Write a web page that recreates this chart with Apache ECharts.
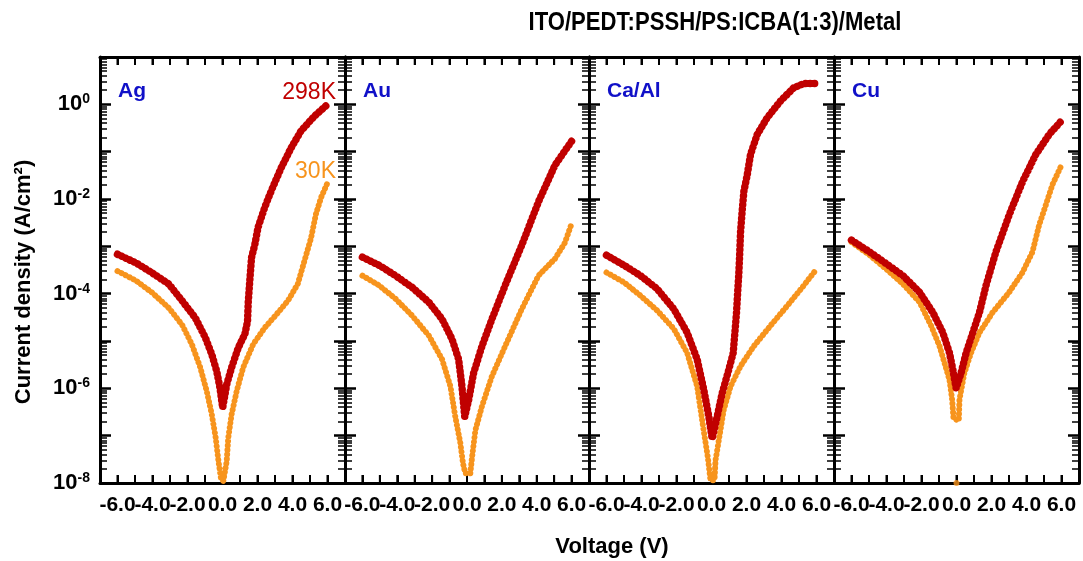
<!DOCTYPE html>
<html><head><meta charset="utf-8">
<script src="https://cdn.jsdelivr.net/npm/echarts@6/dist/echarts.min.js"></script>
<style>html,body{margin:0;padding:0;background:#fff}#c{width:1083px;height:561px}</style>
</head><body><div id="c"></div>
<script>
// ---------- data (voltage V, current density A/cm^2) ----------
const panelNames = ['Ag', 'Au', 'Ca/Al', 'Cu'];
const tempLabels = ['298K', '30K'];
const xTickLabels = [-6, -4, -2, 0, 2, 4, 6];
const xTickValues = [-7, -6, -5, -4, -3, -2, -1, 0, 1, 2, 3, 4, 5, 6, 7];
const yLabelExponents = [0, -2, -4, -6, -8];
const yDecadeExponents = [-8, -7, -6, -5, -4, -3, -2, -1, 0, 1];

const agHot = [[-6,6.8e-4],[-4.96,4.5e-4],[-4.02,2.75e-4],[-3.07,1.6e-4],[-2.31,7.1e-5],[-1.56,3.1e-5],[-0.99,1.2e-5],[-0.61,5.2e-6],[-0.33,2.3e-6],[-0.14,1.0e-6],[0.01,3.9e-7],[0.24,1.2e-6],[0.52,2.75e-6],[0.9,7.2e-6],[1.28,1.4e-5],[1.43,2.6e-5],[1.47,6.5e-5],[1.56,1.9e-4],[1.66,5.8e-4],[1.85,1.1e-3],[2.03,2.5e-3],[2.41,6.6e-3],[2.79,1.5e-2],[3.36,4.6e-2],[3.92,0.12],[4.49,0.275],[5.25,0.56],[6.0,1.0]];
const agCold = [[-6,3.0e-4],[-4.96,1.9e-4],[-4.02,1.05e-4],[-3.07,5.0e-5],[-2.31,2.2e-5],[-1.75,8.5e-6],[-1.27,2.75e-6],[-0.9,8.7e-7],[-0.61,2.8e-7],[-0.39,9.1e-8],[-0.23,2.9e-8],[-0.08,1.2e-8],[0.05,1.1e-8],[0.24,2.9e-8],[0.33,9.1e-8],[0.52,2.8e-7],[0.81,8.7e-7],[1.18,2.75e-6],[1.75,8.5e-6],[2.41,1.9e-5],[3.07,3.6e-5],[3.74,7.1e-5],[4.3,1.6e-4],[4.68,4.9e-4],[5.06,1.5e-3],[5.34,4.8e-3],[5.63,1.07e-2],[6.0,2.2e-2]];

const auHot = [[-6,5.9e-4],[-5.05,4.0e-4],[-4.1,2.4e-4],[-3.14,1.35e-4],[-2.19,6.6e-5],[-1.43,2.9e-5],[-0.86,1.1e-5],[-0.48,4.1e-6],[-0.29,1.1e-6],[-0.13,2.5e-7],[0.1,5.8e-7],[0.38,2.1e-6],[0.86,7.8e-6],[1.43,2.9e-5],[2.19,1.5e-4],[3.14,1.05e-3],[4.1,8.7e-3],[5.05,5.2e-2],[6.0,0.166]];
const auCold = [[-6,2.4e-4],[-5.05,1.5e-4],[-4.1,7.8e-5],[-3.14,3.4e-5],[-2.19,1.3e-5],[-1.43,4.1e-6],[-0.95,1.1e-6],[-0.67,2.5e-7],[-0.38,6.9e-8],[-0.23,2.6e-8],[-0.1,1.6e-8],[0.19,1.6e-8],[0.29,3.5e-8],[0.48,1.3e-7],[0.86,4.2e-7],[1.43,1.8e-6],[2.19,7.8e-6],[3.14,4.7e-5],[4.1,2.4e-4],[5.05,5.5e-4],[5.62,1.2e-3],[6.0,3.0e-3]];

const caHot = [[-6,6.5e-4],[-5.01,4.0e-4],[-4.06,2.4e-4],[-3.1,1.26e-4],[-2.15,4.7e-5],[-1.39,1.5e-5],[-0.82,4.1e-6],[-0.44,9.3e-7],[-0.15,2.5e-7],[0.04,8.7e-8],[0.32,2.5e-7],[0.61,7.9e-7],[0.99,2.5e-6],[1.24,5.6e-6],[1.37,2.1e-5],[1.43,4.0e-5],[1.5,1.15e-4],[1.56,2.6e-4],[1.6,5.5e-4],[1.66,2.0e-3],[1.75,5.4e-3],[1.85,1.45e-2],[2.04,3.2e-2],[2.23,8.7e-2],[2.61,0.23],[3.18,0.52],[3.94,1.17],[4.7,2.24],[5.28,2.75],[6.0,2.75]];
const caCold = [[-6,2.8e-4],[-5.01,1.75e-4],[-4.06,9.1e-5],[-3.1,4.4e-5],[-2.15,1.8e-5],[-1.39,5.6e-6],[-0.82,1.1e-6],[-0.48,1.55e-7],[-0.21,3.5e-8],[-0.06,1.15e-8],[0.17,1.15e-8],[0.23,3.0e-8],[0.42,8.1e-8],[0.7,3.5e-7],[1.09,1.1e-6],[1.66,2.95e-6],[2.42,7.8e-6],[3.37,2.1e-5],[4.32,5.5e-5],[5.28,1.5e-4],[6.0,3.3e-4]];

const cuHot = [[-6,1.35e-3],[-4.96,7.6e-4],[-4.01,4.3e-4],[-3.06,2.4e-4],[-2.11,1.07e-4],[-1.35,4.0e-5],[-0.78,1.5e-5],[-0.4,5.6e-6],[-0.21,2.5e-6],[-0.02,1.0e-6],[0.26,2.1e-6],[0.55,5.6e-6],[0.93,1.5e-5],[1.31,4.0e-5],[1.69,1.5e-4],[2.25,7.6e-4],[3.01,4.6e-3],[3.77,2.3e-2],[4.53,8.7e-2],[5.29,0.23],[6.0,0.45]];
const cuCold = [[-6,1.23e-3],[-4.96,6.5e-4],[-4.01,3.3e-4],[-3.06,1.6e-4],[-2.11,6.6e-5],[-1.45,2.1e-5],[-0.97,7.8e-6],[-0.69,3.5e-6],[-0.4,1.5e-6],[-0.25,5.8e-7],[-0.17,2.3e-7],[0.13,2.1e-7],[0.17,5.8e-7],[0.45,2.1e-6],[0.83,5.6e-6],[1.31,1.5e-5],[2.06,4.0e-5],[3.01,1.07e-4],[3.77,2.8e-4],[4.34,7.6e-4],[4.72,2.8e-3],[5.1,7.4e-3],[5.48,2.0e-2],[6.0,5.2e-2]];
const cuColdOutlier = [[0, 1.0e-8]];

const hotSets = [agHot, auHot, caHot, cuHot];
const coldSets = [agCold, auCold, caCold, cuCold];

// ---------- style ----------
const RED = '#c00000', ORANGE = '#f7941d', BLUE = '#1010c8';
const SANS = "'Liberation Sans',Arial,sans-serif";
const gridLefts = [100, 345, 589, 834];
const gridWidths = [245, 244, 245, 245];
const GTOP = 57, GHEIGHT = 426;
const Y_MIN = 1e-8, Y_MAX = 10;

const decadeVals = yDecadeExponents.map(e => Math.pow(10, e));
const minorVals = [];
yDecadeExponents.slice(0, -1).forEach(e => { for (let m = 2; m <= 9; m++) minorVals.push(m * Math.pow(10, e)); });
const yLabelVals = yLabelExponents.map(e => Math.pow(10, e));

const grids = [], xAxes = [], yAxes = [], series = [];
for (let i = 0; i < 4; i++) {
  grids.push({left: gridLefts[i], top: GTOP, width: gridWidths[i], height: GHEIGHT, containLabel: false});
  const xBase = {
    gridIndex: i, type: 'value', min: -7, max: 7, interval: 1,
    axisLine: {show: true, onZero: false, lineStyle: {color: '#000', width: 3}},
    axisTick: {show: true, inside: true, length: 8, lineStyle: {color: '#000', width: 2}},
    splitLine: {show: false}
  };
  xAxes.push(Object.assign({}, xBase, {
    position: 'bottom',
    axisLabel: {
      show: true, margin: 12, color: '#000', fontFamily: SANS, fontWeight: 'bold', fontSize: 21,
      showMinLabel: true, showMaxLabel: true, hideOverlap: false,
      formatter: v => (xTickLabels.indexOf(v) >= 0 ? v.toFixed(1) : '')
    }
  }));
  xAxes.push(Object.assign({}, xBase, {position: 'top', axisLabel: {show: false}}));

  ['left', 'right'].forEach(pos => {
    yAxes.push({
      gridIndex: i, type: 'log', logBase: 10, min: Y_MIN, max: Y_MAX, position: pos,
      axisLine: {show: true, onZero: false, lineStyle: {color: '#000', width: 3}},
      axisTick: {show: true, inside: true, length: 11, customValues: decadeVals, lineStyle: {color: '#000', width: 2.5}},
      axisLabel: (i === 0 && pos === 'left') ? {
        show: true, margin: 10, customValues: yLabelVals,
        formatter: v => '{b|10}{s|' + Math.round(Math.log10(v)) + '}',
        rich: {
          b: {fontFamily: SANS, fontWeight: 'bold', fontSize: 22, color: '#000'},
          s: {fontFamily: SANS, fontWeight: 'bold', fontSize: 14, color: '#000', verticalAlign: 'top', padding: [0, 0, 10, 0]}
        }
      } : {show: false},
      splitLine: {show: false}
    });
    yAxes.push({
      gridIndex: i, type: 'log', logBase: 10, min: Y_MIN, max: Y_MAX, position: pos,
      axisLine: {show: false, onZero: false},
      axisTick: {show: true, inside: true, length: 7, customValues: minorVals, lineStyle: {color: '#000', width: 1.5}},
      axisLabel: {show: false},
      splitLine: {show: false}
    });
  });

  // voltage ticks (inside, bottom and top frame), placed through the axis scales
  series.push({
    type: 'custom', xAxisIndex: 2 * i, yAxisIndex: 4 * i, silent: true, clip: false, z: 3,
    data: xTickValues.map(v => [v, Y_MIN]),
    renderItem: (params, api) => {
      const v = api.value(0);
      const b = api.coord([v, Y_MIN]);
      const t = api.coord([v, Y_MAX]);
      return {type: 'group', children: [
        {type: 'line', shape: {x1: b[0], y1: b[1], x2: b[0], y2: b[1] - 8}, style: {stroke: '#000', lineWidth: 2}},
        {type: 'line', shape: {x1: t[0], y1: t[1], x2: t[0], y2: t[1] + 8}, style: {stroke: '#000', lineWidth: 2}}
      ]};
    }
  });

  [[coldSets[i], ORANGE, 6], [hotSets[i], RED, 7.5]].forEach(([d, col, w]) => {
    series.push({
      type: 'line', xAxisIndex: 2 * i, yAxisIndex: 4 * i, data: d,
      showSymbol: false, symbol: 'none', smooth: false,
      lineStyle: {color: col, width: w, type: [0.01, 4.5], cap: 'round', join: 'round'},
      itemStyle: {color: col}, silent: true, animation: false
    });
  });
}
series.push({
  type: 'scatter', xAxisIndex: 6, yAxisIndex: 12, data: cuColdOutlier, z: 10,
  symbolSize: 6, itemStyle: {color: ORANGE}, silent: true, animation: false
});

const texts = [
  {x: 715, y: 23, text: 'ITO/PEDT:PSSH/PS:ICBA(1:3)/Metal', font: 'bold 26px ' + SANS, fill: '#000', align: 'center', sx: 0.85},
  {x: 612, y: 547, text: 'Voltage (V)', font: 'bold 22px ' + SANS, fill: '#000', align: 'center', sx: 1},
  {x: 336, y: 93, text: tempLabels[0], font: '23px ' + SANS, fill: RED, align: 'right', sx: 1},
  {x: 336, y: 172, text: tempLabels[1], font: '23px ' + SANS, fill: ORANGE, align: 'right', sx: 1}
];
panelNames.forEach((n, i) => texts.push({x: gridLefts[i] + 18, y: 91, text: n, font: 'bold 21px ' + SANS, fill: BLUE, align: 'left', sx: 1}));

const graphic = texts.map(t => ({
  type: 'text', x: t.x, y: t.y, scaleX: t.sx, silent: true,
  style: {text: t.text, font: t.font, fill: t.fill, align: t.align, verticalAlign: 'middle', textAlign: t.align, textVerticalAlign: 'middle'}
}));
graphic.push({
  type: 'text', x: 24, y: 282, rotation: Math.PI / 2, silent: true,
  style: {text: 'Current density (A/cm²)', font: 'bold 22px ' + SANS, fill: '#000', align: 'center', verticalAlign: 'middle', textAlign: 'center', textVerticalAlign: 'middle'}
});

const chart = echarts.init(document.getElementById('c'), null, {renderer: 'canvas'});
chart.setOption({
  animation: false, backgroundColor: '#fff',
  grid: grids, xAxis: xAxes, yAxis: yAxes, series: series, graphic: graphic
});
</script></body></html>
